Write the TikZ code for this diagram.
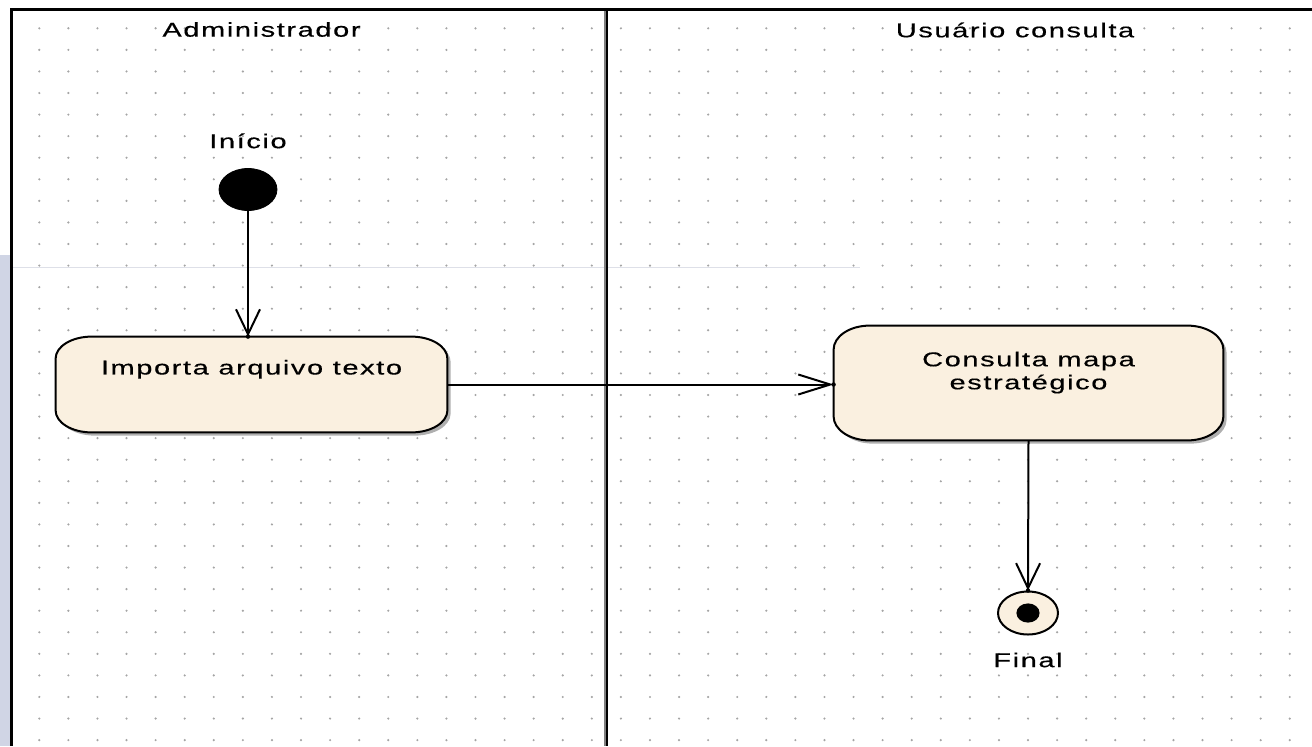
\documentclass[tikz,border=0pt]{standalone}
\usepackage{fontspec}
\newfontfamily\dfont[FakeStretch=1.45,LetterSpace=8,FakeBold=0.4]{Liberation Sans}
\usetikzlibrary{arrows.meta,shapes.geometric}
\pgfdeclarelayer{back}
\pgfdeclarelayer{mid}
\pgfsetlayers{back,mid,main}
\definecolor{boxfill}{RGB}{250,240,224}
\definecolor{dotc}{RGB}{165,165,165}
\definecolor{stripc}{RGB}{208,213,229}
\definecolor{faintc}{RGB}{222,224,232}
\definecolor{shadc}{RGB}{175,175,175}
\newcommand\ebox[4]{%
  \draw[#4] ([xshift=#2]#1.north west) -- ([xshift=-#2]#1.north east)
    arc[start angle=90,end angle=0,x radius=#2,y radius=#3]
    -- ([yshift=#3]#1.south east)
    arc[start angle=0,end angle=-90,x radius=#2,y radius=#3]
    -- ([xshift=#2]#1.south west)
    arc[start angle=270,end angle=180,x radius=#2,y radius=#3]
    -- ([yshift=-#3]#1.north west)
    arc[start angle=180,end angle=90,x radius=#2,y radius=#3] -- cycle;}
\tikzset{
  txt/.style={font=\dfont\fontsize{10pt}{11.5pt}\selectfont, text=black, inner sep=0pt, align=center},
  actbox/.style={rectangle, draw=none, inner sep=0pt},
  boxline/.style={draw=black, line width=1pt, fill=boxfill},
  shadowbox/.style={fill=shadc, draw=none, transform canvas={shift={(1.6pt,-1.6pt)}}},
  flow/.style={draw=black, line width=1pt},
  vtip/.style={-{Straight Barb[length=12.5pt,width=12pt,line width=1pt]}},
  htip/.style={-{Straight Barb[length=16pt,width=10pt,line width=1pt]}},
  frame/.style={draw=black, line width=1.5pt},
}
\begin{document}
\begin{tikzpicture}[x=0.5pt,y=0.5pt]
\useasboundingbox (0,0) rectangle (1312,-746);
% left strip
\fill[stripc] (0,-255) rectangle (10,-746);
% grid dots
\begin{pgfonlayer}{back}
\foreach \i in {0,...,43}{
  \foreach \j in {0,...,33}{
    \fill[dotc] ({39.3+\i*29.08},{-28.3-\j*21.57}) circle[radius=1.2];
  }
}
\draw[faintc, line width=0.5pt] (11,-267) -- (860,-267);
\end{pgfonlayer}
% frame
\draw[frame] (10,-9.5) -- (1312,-9.5);
\draw[frame] (11.5,-8.8) -- (11.5,-746);
\draw[black, line width=1pt] (606.5,-9) -- (606.5,-746);
\draw[gray, line width=0.6pt] (605,-11) -- (605,-746);
% lane headers
\node[txt] (hadm) at (261.5,-29.5) {Administrador};
\node[txt] (husr) at (1015,-30) {Usuário consulta};
% nodes
\node[ellipse, fill=black, draw=black, minimum width=29pt, minimum height=21pt, inner sep=0pt,
  label={[txt, yshift=24.3pt]center:Início}] (start) at (248,-189.5) {};
\node[actbox, minimum width=195.5pt, minimum height=47.5pt,
  label={[txt, yshift=7.6pt]center:Importa arquivo texto}] (imp) at (251.5,-384.5) {};
\node[actbox, minimum width=194.5pt, minimum height=57pt,
  label={[txt, yshift=5.2pt]center:Consulta mapa\\estratégico}] (cons) at (1028.5,-383) {};
\node[ellipse, fill=boxfill, draw=black, line width=1pt, minimum width=30pt, minimum height=21.5pt, inner sep=0pt,
  label={[txt, yshift=-23.5pt]center:Final}] (fin) at (1028,-613) {};
\fill[black] (fin.center) ellipse[x radius=5.8pt, y radius=4.8pt];
\begin{pgfonlayer}{mid}
\ebox{imp}{18pt}{11pt}{shadowbox}
\ebox{imp}{18pt}{11pt}{boxline}
\ebox{cons}{18pt}{12pt}{shadowbox}
\ebox{cons}{18pt}{12pt}{boxline}
\end{pgfonlayer}
% connectors
\draw[flow, vtip] (start.south) -- (start |- imp.north);
\draw[flow, htip] (imp.east) -- (imp.east -| cons.west);
\draw[flow, vtip] (cons.south) -- (fin.north);
\fill[black] (start |- imp.north) circle[radius=2.2];
\fill[black] (imp.east -| cons.west) circle[radius=2.2];
\fill[black] (fin.north) circle[radius=2.2];
\end{tikzpicture}
\end{document}
